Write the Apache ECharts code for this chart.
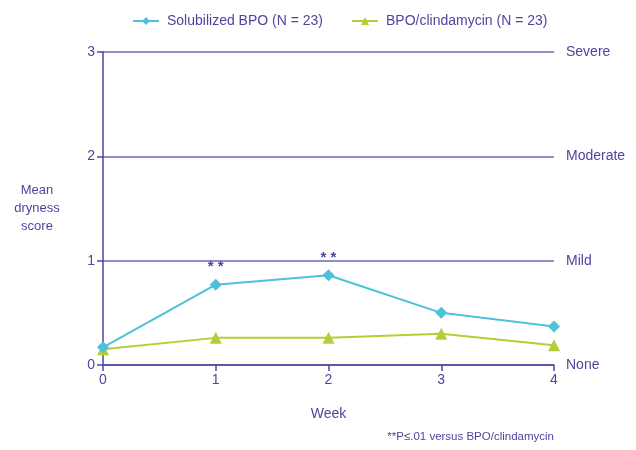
<!DOCTYPE html>
<html>
<head>
<meta charset="utf-8">
<script src="https://cdn.jsdelivr.net/npm/echarts@6/dist/echarts.min.js"></script>
<style>
  html, body { margin: 0; padding: 0; background: #fff; }
  #chart { width: 636px; height: 450px; }
</style>
</head>
<body>
<div id="chart"></div>
<script>
// Weeks of treatment
const weeks = [0, 1, 2, 3, 4];
// Mean dryness score per week
const solubilizedBPO = [0.17, 0.77, 0.86, 0.50, 0.37];
const bpoClindamycin = [0.15, 0.26, 0.26, 0.30, 0.19];
// Significance markers for the solubilized BPO series
const significance = ['', '* *', '* *', '', ''];
// Severity labels on the right-hand scale
const severityLabels = ['None', 'Mild', 'Moderate', 'Severe'];
const seriesNames = ['Solubilized BPO (N = 23)', 'BPO/clindamycin (N = 23)'];

const ink = '#4f459e';
const gridLine = '#6f66b3';
const fontFamily = '"Liberation Sans", Arial, sans-serif';

const chart = echarts.init(document.getElementById('chart'));
chart.setOption({
  animation: false,
  textStyle: { fontFamily: fontFamily, color: ink },
  legend: {
    top: 9,
    left: 127,
    itemGap: 28,
    itemWidth: 26,
    itemHeight: 10,
    textStyle: { color: ink, fontSize: 14, fontFamily: fontFamily, padding: [0, 0, 0, 3] },
    data: seriesNames
  },
  grid: { left: 103, right: 82, top: 52, bottom: 85 },
  xAxis: {
    type: 'value',
    min: 0, max: 4, interval: 1,
    name: 'Week',
    nameLocation: 'middle',
    nameGap: 42,
    nameTextStyle: { color: ink, fontSize: 14 },
    axisLine: { show: true, lineStyle: { color: ink, width: 1.5 } },
    axisTick: { show: true, length: 6, lineStyle: { color: ink, width: 1.5 } },
    axisLabel: { color: ink, fontSize: 14, margin: 8 },
    splitLine: { show: false }
  },
  yAxis: [{
    type: 'value',
    min: 0, max: 3, interval: 1,
    name: 'Mean\ndryness\nscore',
    nameLocation: 'middle',
    nameRotate: 0,
    nameGap: 66,
    nameTextStyle: { color: ink, fontSize: 13, lineHeight: 18, align: 'center' },
    axisLine: { show: true, lineStyle: { color: ink, width: 1.5 } },
    axisTick: { show: true, length: 6, lineStyle: { color: ink, width: 1.5 } },
    axisLabel: { color: ink, fontSize: 14, margin: 8 },
    splitLine: { show: true, lineStyle: { color: gridLine, width: 1.5 } }
  }, {
    type: 'value',
    position: 'right',
    min: 0, max: 3, interval: 1,
    axisLine: { show: false },
    axisTick: { show: false },
    splitLine: { show: false },
    axisLabel: {
      color: ink, fontSize: 14, margin: 12,
      formatter: v => severityLabels[v] || ''
    }
  }],
  series: [{
    name: seriesNames[0],
    type: 'line',
    data: weeks.map((w, i) => [w, solubilizedBPO[i]]),
    symbol: 'diamond',
    symbolSize: 12,
    color: '#4dc1d8',
    lineStyle: { width: 2, color: '#4dc1d8' },
    itemStyle: { color: '#4dc1d8' },
    label: {
      show: true,
      position: 'top',
      distance: 4,
      color: ink,
      fontSize: 15,
      fontWeight: 'bold',
      formatter: p => significance[p.dataIndex]
    },
    z: 3
  }, {
    name: seriesNames[1],
    type: 'line',
    data: weeks.map((w, i) => [w, bpoClindamycin[i]]),
    symbol: 'triangle',
    symbolSize: 12,
    color: '#b4cf35',
    lineStyle: { width: 2, color: '#b4cf35' },
    itemStyle: { color: '#b4cf35' },
    z: 2
  }],
  graphic: [{
    type: 'text',
    right: 82,
    top: 431,
    style: {
      text: '**P\u2264.01 versus BPO/clindamycin',
      fill: ink,
      fontSize: 11.5,
      fontFamily: fontFamily
    }
  }]
});
</script>
</body>
</html>
